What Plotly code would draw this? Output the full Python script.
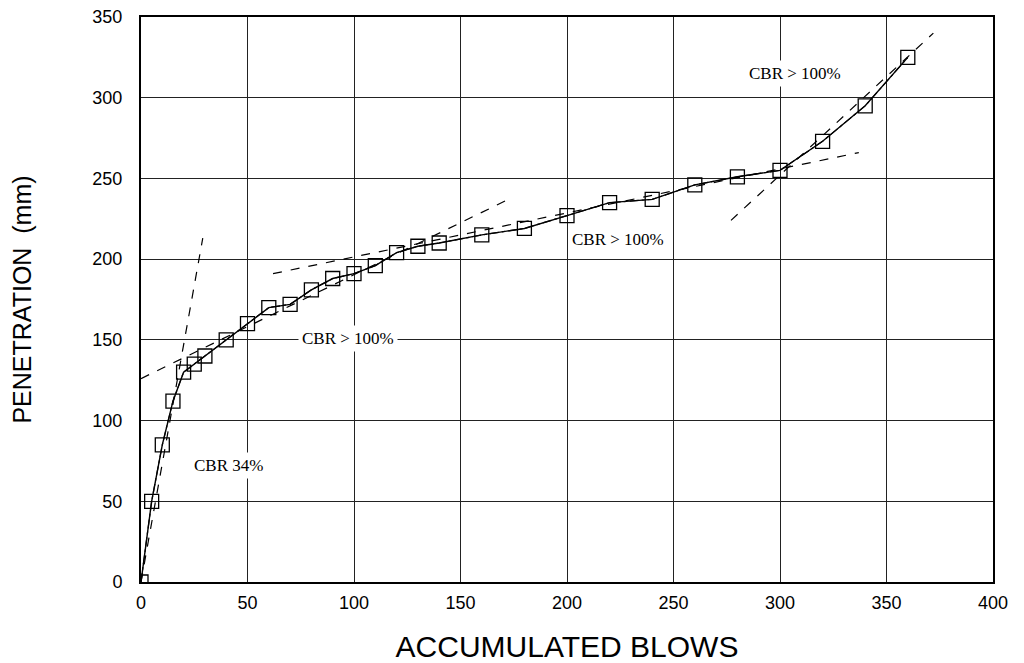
import plotly.graph_objects as go

# Measured data (accumulated blows vs penetration)
blows = [0, 5, 10, 15, 20, 25, 30, 40, 50, 60, 70, 80, 90, 100, 110, 120, 130, 140,
         160, 180, 200, 220, 240, 260, 280, 300, 320, 340, 360]
penetration = [0, 50, 85, 112, 130, 135, 140, 150, 160, 170, 172, 181, 188, 191, 196, 204,
               208, 210, 215, 219, 227, 235, 237, 246, 251, 255, 273, 295, 325]

# Straight-line fits (end points)
fit1_x = [0, 29]
fit1_y = [0, 213]
fit2_x = [0, 174]
fit2_y = [126, 238]
fit3_x = [62, 337]
fit3_y = [191, 266]
fit4_x = [277, 372]
fit4_y = [224, 340]

# Annotation labels
label_text = ["CBR 34%", "CBR > 100%", "CBR > 100%", "CBR > 100%"]
label_x = [41, 97, 224, 307]
label_y = [72, 151, 212, 315]

x_ticks = [0, 50, 100, 150, 200, 250, 300, 350, 400]
y_ticks = [0, 50, 100, 150, 200, 250, 300, 350]

fig = go.Figure()

for fx, fy in [(fit1_x, fit1_y), (fit2_x, fit2_y), (fit3_x, fit3_y), (fit4_x, fit4_y)]:
    fig.add_trace(go.Scatter(x=fx, y=fy, mode="lines",
                             line=dict(color="black", width=1.2, dash="dash"),
                             showlegend=False, hoverinfo="skip"))

fig.add_trace(go.Scatter(x=blows, y=penetration, mode="lines",
                         line=dict(color="black", width=1.2, dash="dashdot"),
                         showlegend=False, hoverinfo="skip"))
fig.add_trace(go.Scatter(x=blows, y=penetration, mode="lines+markers",
                         line=dict(color="black", width=1.4),
                         marker=dict(symbol="square-open", size=14,
                                     color="black", line=dict(width=1.3, color="black")),
                         showlegend=False))

for t, ax_, ay_ in zip(label_text, label_x, label_y):
    fig.add_annotation(x=ax_, y=ay_, text=t, showarrow=False,
                       font=dict(family="Liberation Serif", size=17, color="black"),
                       bgcolor="white", borderpad=3)

axis_common = dict(showline=True, linecolor="black", linewidth=2, mirror=True,
                   showgrid=True, gridcolor="#222", gridwidth=1, zeroline=False,
                   automargin=False, ticklabeloverflow="allow",
                   ticks="", tickfont=dict(family="Liberation Sans", size=18, color="black"))

fig.update_xaxes(range=[0, 400], tickvals=x_ticks, ticklabelstandoff=3,
                 title=dict(text="ACCUMULATED BLOWS", standoff=24,
                            font=dict(family="Liberation Sans", size=30, color="black")),
                 **axis_common)
fig.update_yaxes(range=[0, 350], tickvals=y_ticks, ticklabelstandoff=13,
                 title=dict(text="PENETRATION  (mm)", standoff=56,
                            font=dict(family="Liberation Sans", size=25, color="black")),
                 **axis_common)

fig.update_layout(width=1016, height=655,
                  margin=dict(l=133, r=31, t=9, b=81),
                  paper_bgcolor="white", plot_bgcolor="white")

fig.write_html("out.html")
